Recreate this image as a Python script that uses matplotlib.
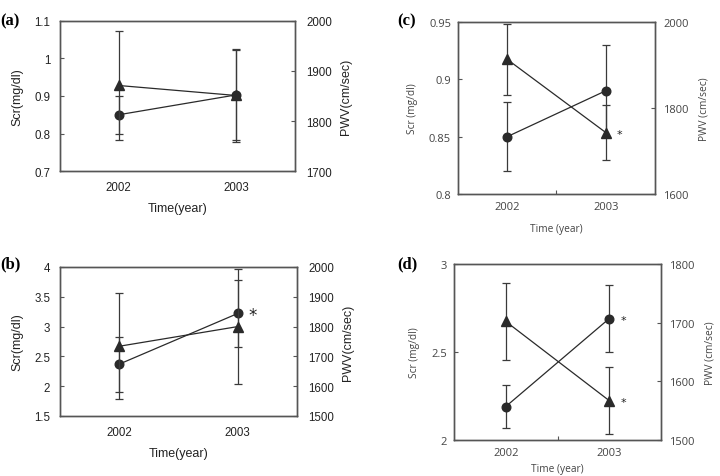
import numpy as np
import matplotlib
matplotlib.use("Agg")
import matplotlib.pyplot as plt

# ============================================================
# Data
# ============================================================

years = ["2002", "2003"]

# (a)
scr_a    = [0.85, 0.903]
scr_a_sd = [0.05, 0.12]
pwv_a    = [1871, 1851]
pwv_a_sd = [108, 93]

# (b)
scr_b    = [2.37, 3.22]
scr_b_sd = [0.46, 0.56]
pwv_b    = [1734, 1800]
pwv_b_sd = [178, 192]

# (c)
scr_c    = [0.85, 0.89]
scr_c_sd = [0.03, 0.04]
pwv_c    = [1913, 1743]
pwv_c_sd = [82, 65]

# (d)
scr_d    = [2.19, 2.69]
scr_d_sd = [0.12, 0.19]
pwv_d    = [1702, 1567]
pwv_d_sd = [65, 57]

# significance marks at 2003: (scr, pwv)
sig_a = (False, False)
sig_b = (True, False)
sig_c = (False, True)
sig_d = (True, True)

# axis ranges / ticks
scr_ticks_a = [0.7, 0.8, 0.9, 1.0, 1.1]
pwv_ticks_a = [1700, 1800, 1900, 2000]
scr_ticks_b = [1.5, 2, 2.5, 3, 3.5, 4]
pwv_ticks_b = [1500, 1600, 1700, 1800, 1900, 2000]
scr_ticks_c = [0.8, 0.85, 0.9, 0.95]
pwv_ticks_c = [1600, 1800, 2000]
scr_ticks_d = [2, 2.5, 3]
pwv_ticks_d = [1500, 1600, 1700, 1800]

scr_labels_a = ["0.7", "0.8", "0.9", "1", "1.1"]
scr_labels_b = ["1.5", "2", "2.5", "3", "3.5", "4"]
scr_labels_c = ["0.8", "0.85", "0.9", "0.95"]
scr_labels_d = ["2", "2.5", "3"]

# ============================================================
# Figure
# ============================================================

fig = plt.figure(figsize=(7.2, 4.77), dpi=100)

LINE = "#2a2a2a"


def panel(rect, scr, scr_sd, pwv, pwv_sd, sticks, slabels, pticks, sig,
          letter, style):
    font, tcol, tsize, lsize, ylab, y2lab, xlab, mid_tick, pads = style
    ax = fig.add_axes(rect)
    ax2 = ax.twinx()
    x = np.arange(len(years))

    ax.errorbar(x, scr, yerr=scr_sd, color=LINE, ecolor="#3a3a3a",
                elinewidth=0.9, capsize=2.8, capthick=0.9,
                marker="o", markersize=6.2, linewidth=0.9, zorder=3)
    ax2.errorbar(x, pwv, yerr=pwv_sd, color=LINE, ecolor="#3a3a3a",
                 elinewidth=0.9, capsize=2.8, capthick=0.9,
                 marker="^", markersize=6.5, linewidth=0.9, zorder=3)

    ax.set_xlim(-0.5, 1.5)
    ax.set_ylim(sticks[0], sticks[-1])
    ax2.set_ylim(pticks[0], pticks[-1])
    ax.set_yticks(sticks, slabels)
    ax2.set_yticks(pticks, [str(p) for p in pticks])
    ax.set_xticks(x, years)

    for a in (ax, ax2):
        for s in a.spines.values():
            s.set_color("#555555")
            s.set_linewidth(1.0)
        a.tick_params(axis="y", direction="in", length=3, width=0.8,
                      color="#555555", labelsize=tsize, labelcolor=tcol)
        for lab in a.get_yticklabels():
            lab.set_fontfamily(font)
    ax.tick_params(axis="y", pad=pads[0])
    ax2.tick_params(axis="y", pad=pads[1])
    ax.tick_params(axis="x", length=0, labelsize=tsize, labelcolor=tcol,
                   pad=pads[2])
    for lab in ax.get_xticklabels():
        lab.set_fontfamily(font)
    if mid_tick:
        ax.set_xticks([0.5], minor=True)
        ax.tick_params(axis="x", which="minor", direction="in", length=3,
                       width=0.8, color="#555555")

    ax.set_ylabel(ylab, fontsize=lsize, color=tcol, family=font,
                  labelpad=pads[3])
    ax2.set_ylabel(y2lab, fontsize=lsize, color=tcol, family=font,
                   labelpad=pads[4])
    ax.set_xlabel(xlab, fontsize=lsize, color=tcol, family=font,
                  labelpad=pads[5])

    star_size = 12 if letter == "(b)" else 8
    if sig[0]:
        ax.annotate("*", xy=(x[-1], scr[-1]), xytext=(8, -1),
                    textcoords="offset points", ha="left", va="center",
                    fontsize=star_size, color="#222222", family="DejaVu Sans")
    if sig[1]:
        ax2.annotate("*", xy=(x[-1], pwv[-1]), xytext=(8, -1),
                     textcoords="offset points", ha="left", va="center",
                     fontsize=star_size, color="#222222", family="DejaVu Sans")
    return ax


style_a = ("Liberation Sans", "#222222", 8.3, 9,
           "Scr(mg/dl)", "PWV(cm/sec)", "Time(year)", False,
           (7, 8, 7, 8, 6, 7))
style_cd = ("Open Sans", "#444444", 8, 7.3,
            "Scr (mg/dl)", "PWV (cm/sec)", "Time (year)", True,
            (5, 6, 5, 8, 7, 8))
style_d = style_cd[:-1] + ((5, 6, 5, 8, 7, 4),)

panel([0.0833, 0.6394, 0.3264, 0.3145], scr_a, scr_a_sd, pwv_a, pwv_a_sd,
      scr_ticks_a, scr_labels_a, pwv_ticks_a, sig_a, "(a)", style_a)
panel([0.0833, 0.1258, 0.3292, 0.3124], scr_b, scr_b_sd, pwv_b, pwv_b_sd,
      scr_ticks_b, scr_labels_b, pwv_ticks_b, sig_b, "(b)", style_a)
panel([0.6361, 0.5912, 0.2736, 0.3606], scr_c, scr_c_sd, pwv_c, pwv_c_sd,
      scr_ticks_c, scr_labels_c, pwv_ticks_c, sig_c, "(c)", style_cd)
panel([0.6306, 0.0755, 0.2875, 0.3690], scr_d, scr_d_sd, pwv_d, pwv_d_sd,
      scr_ticks_d, scr_labels_d, pwv_ticks_d, sig_d, "(d)", style_d)

# panel letters
for lx, ly, txt in [(0.0, 0.955, "(a)"), (0.0, 0.445, "(b)"),
                    (0.552, 0.955, "(c)"), (0.552, 0.445, "(d)")]:
    fig.text(lx, ly, txt, fontsize=12, fontweight="bold",
             family="Liberation Serif", ha="left", va="center")

fig.savefig("out.png", dpi=100)
